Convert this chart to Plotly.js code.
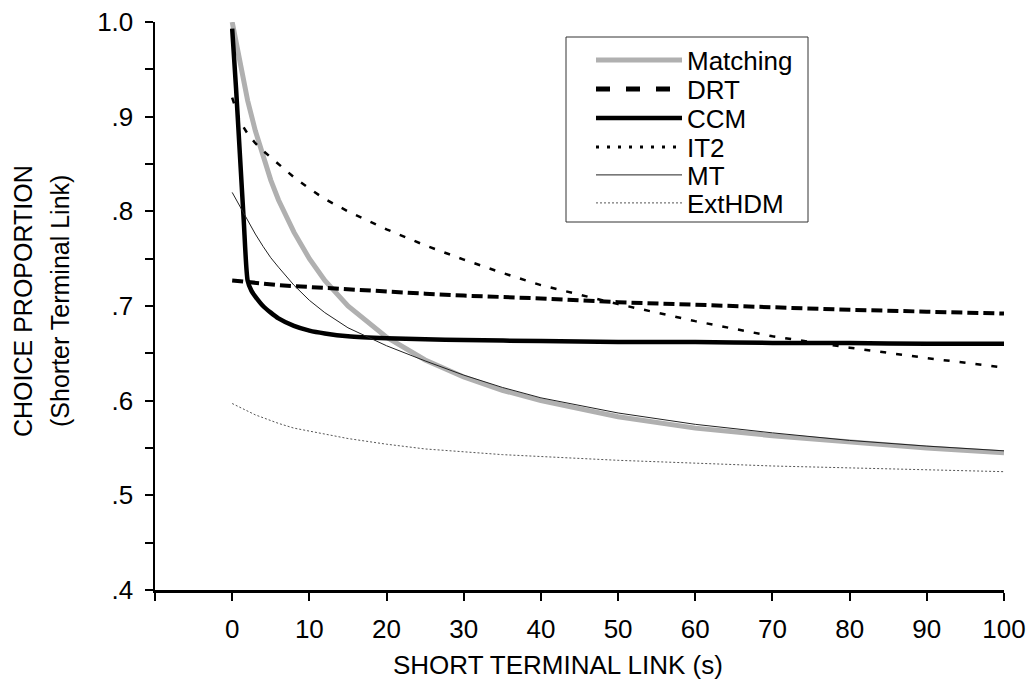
<!DOCTYPE html>
<html>
<head>
<meta charset="utf-8">
<script src="https://cdn.plot.ly/plotly-3.0.1.min.js"></script>
<style>html,body{margin:0;padding:0;background:#fff;}#chart{width:1032px;height:683px;}</style>
</head>
<body>
<div id="chart"></div>
<script>
// ---- data ----
const xCommon = [0,1,2,3,4,5,6,8,10,12,15,20,25,30,35,40,50,60,70,80,90,100];
const matching = [1.000,0.955,0.917,0.885,0.857,0.833,0.812,0.778,0.750,0.727,0.700,0.667,0.643,0.625,0.611,0.600,0.583,0.571,0.563,0.556,0.550,0.545];
const drt      = [0.727,0.726,0.725,0.725,0.724,0.723,0.722,0.721,0.720,0.719,0.717,0.715,0.713,0.711,0.710,0.708,0.704,0.701,0.699,0.696,0.694,0.692];
const it2      = [0.920,0.895,0.882,0.872,0.864,0.857,0.849,0.836,0.824,0.813,0.800,0.781,0.764,0.749,0.735,0.722,0.702,0.684,0.668,0.656,0.645,0.635];
const mt       = [0.820,0.805,0.790,0.776,0.763,0.751,0.741,0.722,0.706,0.693,0.677,0.658,0.642,0.627,0.614,0.603,0.587,0.575,0.566,0.558,0.552,0.547];
const exthdm   = [0.597,0.593,0.589,0.585,0.582,0.579,0.576,0.571,0.568,0.565,0.560,0.554,0.549,0.546,0.543,0.541,0.537,0.534,0.531,0.529,0.527,0.525];
const ccmX = [0,0.5,1,1.5,2,2.5,3,4,5,6,8,10,12,15,20,25,30,40,50,60,70,80,90,100];
const ccm  = [0.993,0.930,0.860,0.790,0.727,0.716,0.710,0.700,0.693,0.687,0.679,0.674,0.671,0.668,0.666,0.665,0.664,0.663,0.662,0.662,0.661,0.661,0.660,0.660];
const seriesNames = ["Matching","DRT","CCM","IT2","MT","ExtHDM"];
const xTickVals = [-10,0,10,20,30,40,50,60,70,80,90,100];
const xTickText = ["","0","10","20","30","40","50","60","70","80","90","100"];
const yTickVals = [0.4,0.5,0.6,0.7,0.8,0.9,1.0];
const yTickText = [".4",".5",".6",".7",".8",".9","1.0"];
const xTitle = "SHORT TERMINAL LINK (s)";
const yTitle1 = "CHOICE PROPORTION";
const yTitle2 = "(Shorter Terminal Link)";

const FONT = "Liberation Sans, Arial, Helvetica, sans-serif";

// plot-area geometry in pixels (for converting layout positions to paper coords)
const W = 1032, H = 683, ML = 155, MR = 28, MT = 22, MB = 93;
const PW = W - ML - MR, PH = H - MT - MB;
const px = v => (v - ML) / PW;
const py = v => (H - MB - v) / PH;

const styles = [
  {color:"#b0b0b0", width:5},
  {color:"#000", width:4, dash:"11px,5px"},
  {color:"#000", width:4.5, shape:"spline", smoothing:0.6},
  {color:"#000", width:2.5, dash:"6px,10px"},
  {color:"#222", width:1},
  {color:"#555", width:1, dash:"2px,2px"}
];
const ys = [matching, drt, ccm, it2, mt, exthdm];
const xs = [xCommon, xCommon, ccmX, xCommon, xCommon, xCommon];
const legendStyles = [
  {color:"#b0b0b0", width:5},
  {color:"#000", width:5, dash:"14px,16px"},
  {color:"#000", width:4.5},
  {color:"#000", width:3, dash:"3px,8px"},
  {color:"#222", width:1},
  {color:"#555", width:1, dash:"2px,2px"}
];

const traces = [];
const rowY = [60, 89, 118, 147, 175, 203];
const legendIds = ["legend","legend2","legend3","legend4","legend5","legend6"];
for (let i = 0; i < 6; i++) {
  traces.push({x:xs[i], y:ys[i], name:seriesNames[i], mode:"lines", line:styles[i], showlegend:false});
}
// legend entries (empty traces, one legend per row so the row spacing matches)
for (let i = 0; i < 6; i++) {
  traces.push({x:[null], y:[null], name:seriesNames[i], mode:"lines", line:legendStyles[i],
               showlegend:true, legend:legendIds[i], hoverinfo:"skip"});
}

const layout = {
  width:W, height:H,
  margin:{l:ML, r:MR, t:MT, b:MB},
  paper_bgcolor:"#fff", plot_bgcolor:"#fff",
  font:{family:FONT, size:26, color:"#000"},
  xaxis:{range:[-10,100], showgrid:false, zeroline:false, showline:true, linecolor:"#000", linewidth:2.5,
         ticks:"outside", ticklen:8, tickwidth:2, tickcolor:"#000",
         tickmode:"array", tickvals:xTickVals, ticktext:xTickText, ticklabelstandoff:6,
         tickfont:{family:FONT, size:26}},
  yaxis:{range:[0.4,1.0], showgrid:false, zeroline:false, showline:true, linecolor:"#000", linewidth:2.5,
         ticks:"outside", ticklen:8, tickwidth:2, tickcolor:"#000",
         tickmode:"array", tickvals:yTickVals, ticktext:yTickText, ticklabelstandoff:6,
         minor:{dtick:0.05, ticks:"outside", ticklen:8, tickwidth:2, tickcolor:"#000", showgrid:false},
         tickfont:{family:FONT, size:26}},
  shapes:[
    {type:"rect", xref:"paper", yref:"paper", x0:px(566), x1:px(808), y0:py(222), y1:py(37),
     line:{color:"#333", width:1}, fillcolor:"rgba(0,0,0,0)", layer:"below"}
  ],
  annotations:[
    {text:xTitle, xref:"paper", yref:"paper", x:px(558), y:py(665), xanchor:"center", yanchor:"middle",
     showarrow:false, font:{family:FONT, size:26}},
    {text:yTitle1, xref:"paper", yref:"paper", x:px(23), y:py(301), xanchor:"center", yanchor:"middle",
     textangle:-90, showarrow:false, font:{family:FONT, size:25}},
    {text:yTitle2, xref:"paper", yref:"paper", x:px(60), y:py(301), xanchor:"center", yanchor:"middle",
     textangle:-90, showarrow:false, font:{family:FONT, size:25}}
  ]
};
for (let i = 0; i < 6; i++) {
  layout[legendIds[i]] = {x:px(591), y:py(rowY[i]), xanchor:"left", yanchor:"middle",
    bgcolor:"rgba(0,0,0,0)", borderwidth:0, itemwidth:86,
    font:{family:FONT, size:26, color:"#000"}};
}

Plotly.newPlot("chart", traces, layout, {displayModeBar:false, staticPlot:true});
</script>
</body>
</html>
